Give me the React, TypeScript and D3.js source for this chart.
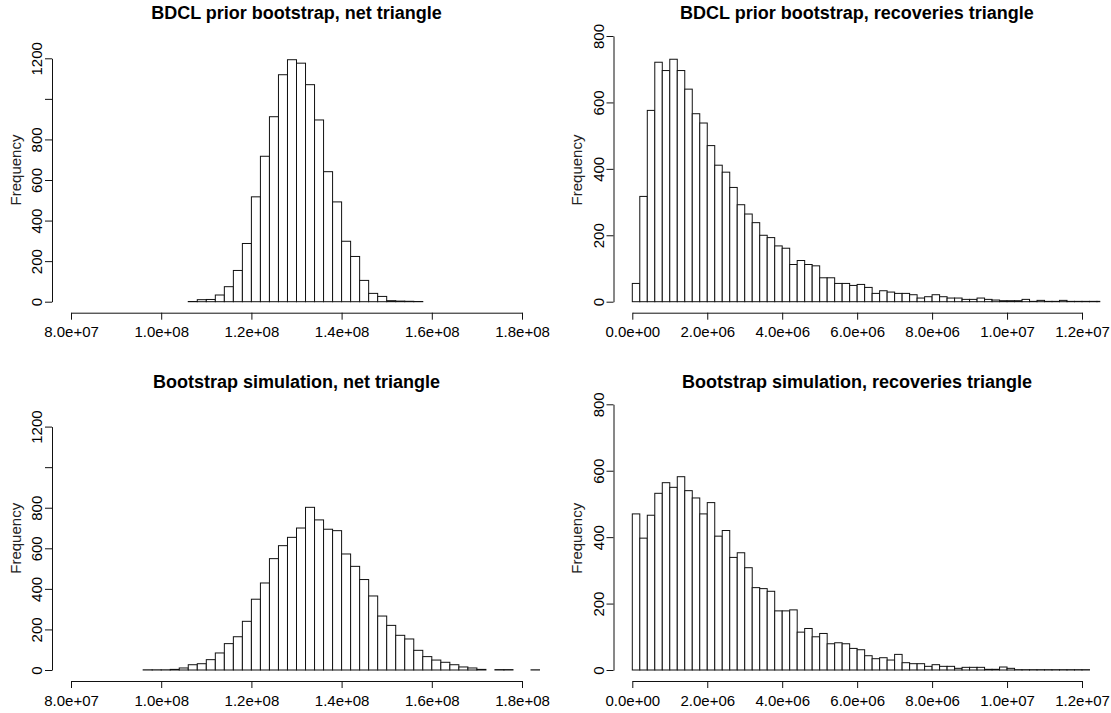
import * as d3 from 'd3';
import { useRef, useEffect } from 'react';

// histogram counts, one value per bin
const netPriorCounts = [1, 10, 11, 33, 74, 154, 287, 517, 717, 912, 1119, 1193, 1176, 1070, 896, 641, 492, 298, 223, 105, 41, 26, 5, 3, 2, 1];
const recPriorCounts = [55, 317, 576, 721, 696, 730, 696, 640, 566, 538, 470, 411, 390, 344, 292, 264, 238, 200, 193, 168, 161, 112, 124, 112, 108, 72, 72, 55, 55, 49, 52, 43,
    25, 33, 29, 25, 25, 21, 11, 15, 21, 15, 11, 11, 7, 7, 11, 7, 5, 3, 3, 3, 7, 1, 4, 1, 1, 4, 1, 1, 1, 1, 1];
const netSimCounts = [1, 1, 1, 3, 10, 26, 31, 51, 84, 130, 164, 240, 349, 429, 549, 613, 654, 700, 802, 740, 694, 687, 572, 511, 446, 365, 266, 220, 171, 153, 97, 66, 49, 38, 26, 15, 10, 3, 0, 2, 2, 0, 0, 1];
const recSimCounts = [470, 397, 466, 532, 564, 550, 582, 540, 518, 470, 504, 403, 420, 339, 353, 308, 248, 245, 237, 178, 178, 181, 114, 125, 100, 110, 79, 82, 79, 65, 61, 43,
    34, 37, 30, 47, 22, 19, 19, 11, 16, 11, 11, 5, 8, 8, 8, 2, 2, 9, 5, 1, 1, 1, 1, 1, 1, 1, 1, 1, 1];

const netPriorStart = 1.06e8;
const netSimStart = 0.96e8;
const netBinWidth = 2e6;
const recStart = 0;
const recBinWidth = 2e5;

const netXTicks = [8e7, 1e8, 1.2e8, 1.4e8, 1.6e8, 1.8e8];
const recXTicks = [0, 2e6, 4e6, 6e6, 8e6, 1e7, 1.2e7];
const netYTicks = [0, 200, 400, 600, 800, 1000, 1200];
const netYLabels = ['0', '200', '400', '600', '800', '', '1200'];
const recYTicks = [0, 200, 400, 600, 800];
const recYLabels = ['0', '200', '400', '600', '800'];

const titles = [
    'BDCL prior bootstrap, net triangle',
    'BDCL prior bootstrap, recoveries triangle',
    'Bootstrap simulation, net triangle',
    'Bootstrap simulation, recoveries triangle',
];

const FONT = '"Liberation Sans", Arial, Helvetica, sans-serif';

const sci = (v: number) => d3.format('.1e')(v).replace(/e([+-])(\d)$/, 'e$10$2');

const App = () => {
    const svgRef = useRef<SVGSVGElement | null>(null);

    useEffect(() => {
        const svg = d3.select(svgRef.current);
        svg.selectAll('*').remove();

        const rowShift = 368.3;
        const net = { axisX: 52, left: 53, right: 540, xDomain: [8e7, 1.8e8], xRange: [71, 522], xTicks: netXTicks, yDomain: [0, 1200], yTop: 58.3, yTicks: netYTicks, yLabels: netYLabels, width: netBinWidth, cx: 296.5 };
        const rec = { axisX: 613.5, left: 614, right: 1100.3, xDomain: [0, 1.2e7], xRange: [632.3, 1082], xTicks: recXTicks, yDomain: [0, 800], yTop: 36, yTicks: recYTicks, yLabels: recYLabels, width: recBinWidth, cx: 857 };

        const panels = [
            { ...net, counts: netPriorCounts, start: netPriorStart, row: 0 },
            { ...rec, counts: recPriorCounts, start: recStart, row: 0 },
            { ...net, counts: netSimCounts, start: netSimStart, row: 1 },
            { ...rec, counts: recSimCounts, start: recStart, row: 1 },
        ];

        const defs = svg.append('defs');

        panels.forEach((p, i) => {
            const g = svg.append('g').attr('transform', `translate(0,${p.row * rowShift})`);

            const x = d3.scaleLinear().domain(p.xDomain).range(p.xRange);
            const y = d3.scaleLinear().domain(p.yDomain).range([301.7, p.yTop]);

            defs.append('clipPath').attr('id', `clip${i}`)
                .append('rect')
                .attr('x', p.left).attr('y', 0)
                .attr('width', p.right - p.left).attr('height', 320);

            const bins = p.counts.map((c, k) => ({ x0: p.start + k * p.width, x1: p.start + (k + 1) * p.width, c }));

            g.append('g')
                .attr('clip-path', `url(#clip${i})`)
                .selectAll('rect')
                .data(bins)
                .enter()
                .append('rect')
                .attr('x', d => x(d.x0))
                .attr('width', d => x(d.x1) - x(d.x0))
                .attr('y', d => y(d.c))
                .attr('height', d => y(0) - y(d.c))
                .attr('fill', 'white')
                .attr('stroke', '#111')
                .attr('stroke-width', 1);

            // x axis
            const xAxis = g.append('g')
                .attr('transform', 'translate(0,312.7)')
                .call(d3.axisBottom(x).tickValues(p.xTicks).tickSize(7).tickSizeOuter(0).tickPadding(7).tickFormat(d => sci(d as number)));
            xAxis.attr('font-size', 15).attr('font-family', FONT);
            xAxis.selectAll('path, line').attr('stroke', '#111');
            xAxis.selectAll('text').attr('fill', '#000');

            // y axis with rotated labels
            const yAxis = g.append('g')
                .attr('transform', `translate(${p.axisX},0)`)
                .call(d3.axisLeft(y).tickValues(p.yTicks).tickSize(7).tickSizeOuter(0).tickFormat((_, k) => p.yLabels[k]));
            yAxis.attr('font-size', 15).attr('font-family', FONT);
            yAxis.selectAll('path, line').attr('stroke', '#111');
            yAxis.selectAll('.tick text')
                .attr('x', 0)
                .attr('y', -10)
                .attr('dy', null)
                .attr('text-anchor', 'middle')
                .attr('transform', 'rotate(-90)')
                .attr('fill', '#000');

            g.append('text')
                .attr('transform', `translate(${p.axisX - 31.5},170) rotate(-90)`)
                .attr('text-anchor', 'middle')
                .attr('font-family', FONT)
                .attr('font-size', 15)
                .attr('fill', '#222')
                .text('Frequency');

            svg.append('text')
                .attr('x', p.cx)
                .attr('y', p.row === 0 ? 19 : 388)
                .attr('text-anchor', 'middle')
                .attr('font-family', FONT)
                .attr('font-weight', 'bold')
                .attr('font-size', 18)
                .text(titles[i]);
        });
    }, []);

    return (
        <svg ref={svgRef} width={1111} height={713}
            style={{ position: 'absolute', left: 0, top: 0, background: 'white' }} />
    );
};

export default App;
